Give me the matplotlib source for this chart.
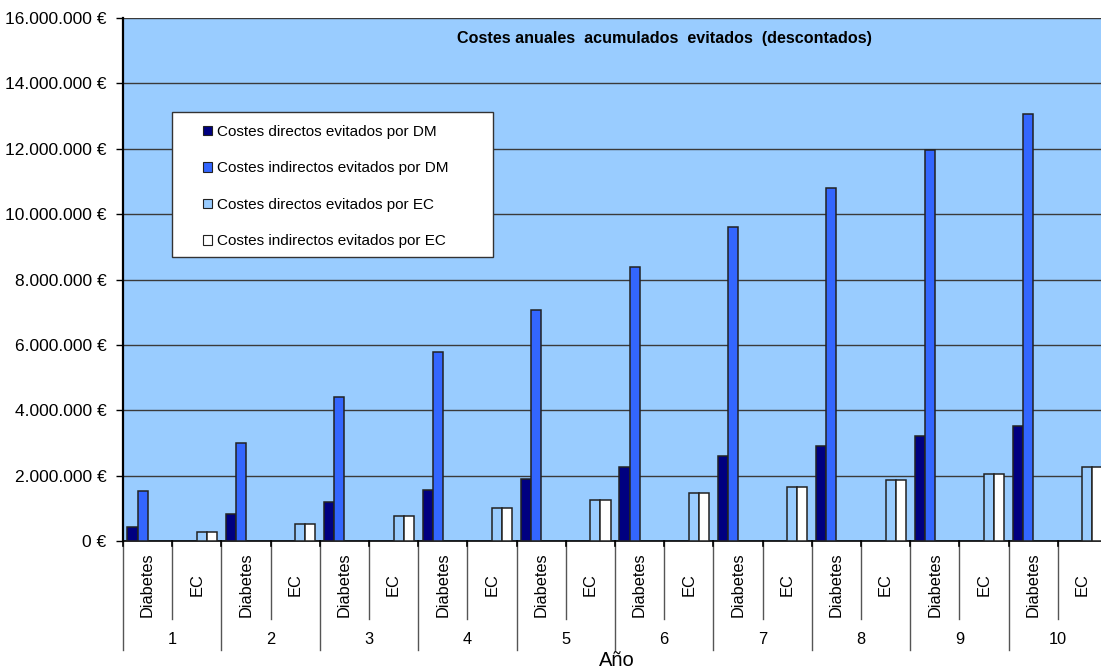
import matplotlib
matplotlib.use('Agg')
import matplotlib.pyplot as plt
from matplotlib.patches import Patch, Rectangle
from matplotlib.lines import Line2D
from matplotlib.ticker import FuncFormatter, MultipleLocator

plt.rcParams['font.family'] = ['Liberation Sans', 'DejaVu Sans']

# Data (euros)
years = ['1', '2', '3', '4', '5', '6', '7', '8', '9', '10']
groups = ['Diabetes', 'EC']
dm_direct = [0.43e6, 0.82e6, 1.18e6, 1.55e6, 1.91e6, 2.25e6, 2.60e6, 2.91e6, 3.22e6, 3.53e6]
dm_indirect = [1.53e6, 2.99e6, 4.40e6, 5.78e6, 7.08e6, 8.37e6, 9.60e6, 10.80e6, 11.96e6, 13.06e6]
ec_direct = [0.28e6, 0.53e6, 0.755e6, 1.00e6, 1.24e6, 1.46e6, 1.66e6, 1.86e6, 2.06e6, 2.25e6]
ec_indirect = [0.28e6, 0.53e6, 0.755e6, 1.00e6, 1.24e6, 1.46e6, 1.66e6, 1.86e6, 2.06e6, 2.25e6]

series_names = ['Costes directos evitados por DM',
                'Costes indirectos evitados por DM',
                'Costes directos evitados por EC',
                'Costes indirectos evitados por EC']
colors = ['#000080', '#3366FF', '#99CCFF', '#FFFFFF']

fig = plt.figure(figsize=(11.01, 6.72), dpi=100)
ax = fig.add_axes([123/1101, 131/672, 984/1101, 523/672])
ax.set_facecolor('#99CCFF')

bw = 0.205
start = 0.09
n_cat = len(years) * len(groups)
ec_col = '#222222'

# Diabetes categories are even slots, EC odd slots
for i in range(len(years)):
    xd = 2*i
    xe = 2*i + 1
    ax.bar(xd + start, dm_direct[i], width=bw, align='edge', color=colors[0],
           edgecolor=ec_col, linewidth=1.1, zorder=3)
    ax.bar(xd + start + bw, dm_indirect[i], width=bw, align='edge', color=colors[1],
           edgecolor=ec_col, linewidth=1.1, zorder=3)
    ax.bar(xe + start + 2*bw, ec_direct[i], width=bw, align='edge', color=colors[2],
           edgecolor=ec_col, linewidth=1.1, zorder=3)
    ax.bar(xe + start + 3*bw, ec_indirect[i], width=bw, align='edge', color=colors[3],
           edgecolor=ec_col, linewidth=1.1, zorder=3)

ax.set_xlim(0, n_cat)
ax.set_ylim(0, 16e6)
ax.yaxis.set_major_locator(MultipleLocator(2e6))
ax.yaxis.set_major_formatter(FuncFormatter(lambda v, p: '{:,.0f}'.format(v).replace(',', '.') + ' €'))
ax.tick_params(axis='y', direction='out', length=5, width=1, labelsize=12.5, pad=7)
ax.set_xticks([])
ax.grid(axis='y', color='#3a3a3a', linewidth=1, zorder=1)

for s in ['top', 'right']:
    ax.spines[s].set_visible(False)
ax.spines['left'].set_linewidth(1.6)
ax.spines['bottom'].set_linewidth(1.2)

# Two level category axis
trans = ax.get_xaxis_transform()
h = 523.0
for k in range(n_cat + 1):
    if k % 2 == 0:
        y_end = -109/h
    else:
        y_end = -78/h
    ax.add_line(Line2D([k, k], [0, y_end], transform=trans, color='#555555',
                       linewidth=1, clip_on=False))
    ax.add_line(Line2D([k, k], [0, -5/h], transform=trans, color='black',
                       linewidth=1.2, clip_on=False))

for i in range(len(years)):
    for j, g in enumerate(groups):
        ax.text(2*i + j + 0.5, -44/h, g, transform=trans, rotation=90,
                ha='center', va='center', fontsize=11.8)
    ax.text(2*i + 1, -99/h, years[i], transform=trans, ha='center',
            va='center', fontsize=11.8)

fig.text(617/1101, 1 - 660/672, 'Año', ha='center', va='center', fontsize=14.5)

ax.text(664/1101, 1 - 38/672, 'Costes anuales  acumulados  evitados  (descontados)',
        transform=fig.transFigure, ha='center', va='center', fontsize=11.6,
        fontweight='bold')

# Legend box (Excel style, uneven padding)
ax.add_patch(Rectangle((49/984, (541-257)/h), 321/984, 145/h, transform=ax.transAxes,
                       facecolor='white', edgecolor='#333333', linewidth=1,
                       zorder=4, clip_on=False))
handles = [Patch(facecolor=c, edgecolor='#222222', linewidth=0.8) for c in colors]
leg = ax.legend(handles, series_names, loc='upper left',
                bbox_to_anchor=(80/984, (541-125)/h), fontsize=11,
                frameon=False, borderpad=0, labelspacing=1.47,
                handlelength=0.6, handleheight=0.6, handletextpad=0.3,
                borderaxespad=0)
leg.set_zorder(5)

fig.savefig('out.png', dpi=100)
